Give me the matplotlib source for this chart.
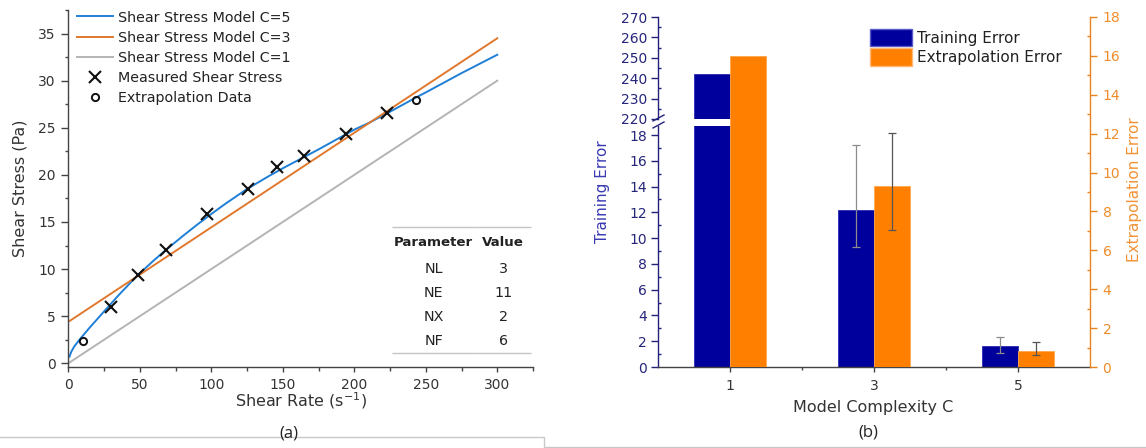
import numpy as np
import matplotlib.pyplot as plt
from matplotlib.lines import Line2D
from matplotlib.ticker import MultipleLocator

# ---------- (a) shear stress vs shear rate ----------
rate_c5 = [0.8, 2, 4, 7, 10, 15, 20, 25, 30, 35, 40, 45, 50, 60, 70, 80, 90, 100,
           110, 125, 140, 150, 165, 175, 194, 200, 210, 225, 243, 250, 275, 300]
stress_c5 = [0.7, 1.2, 1.75, 2.35, 2.9, 3.8, 4.65, 5.5, 6.35, 7.2, 8.0, 8.8, 9.55, 10.95,
             12.25, 13.5, 14.7, 15.85, 16.95, 18.5, 19.85, 20.7, 21.9, 22.7, 24.3, 24.8,
             25.5, 26.7, 28.2, 28.75, 30.8, 32.75]
rate_c3 = [1, 300]
stress_c3 = [4.5, 34.5]
rate_c1 = [0, 300]
stress_c1 = [0, 30]
meas_rate = [30, 49, 68, 97, 126, 146, 165, 194, 223]
meas_stress = [6.0, 9.4, 12.0, 15.9, 18.55, 20.85, 22.0, 24.3, 26.6]
extra_rate = [10, 243]
extra_stress = [2.4, 28.0]

param_names = ['NL', 'NE', 'NX', 'NF']
param_values = ['3', '11', '2', '6']

# ---------- (b) errors vs model complexity ----------
complexity = ['1', '3', '5']
train_err = [242.0, 12.2, 1.65]
train_lo = [0.0, 2.85, 0.6]
train_hi = [0.0, 5.05, 0.7]
extra_err = [16.0, 9.3, 0.82]
extra_lo = [0.0, 2.27, 0.2]
extra_hi = [0.0, 2.75, 0.45]

W, H = 1146, 448
fig = plt.figure(figsize=(W / 100, H / 100), dpi=100)


def fx(px):
    return px / W


def fy(py):
    return 1 - py / H


dark = '#333333'

# ===== panel (a) =====
ax1 = fig.add_axes([fx(68.3), fy(366.7), fx(533 - 68.3), (366.7 - 10) / H])
ax1.plot(rate_c5, stress_c5, color='#1f7fd6', lw=1.4, label='Shear Stress Model C=5')
ax1.plot(rate_c3, stress_c3, color='#e0782e', lw=1.4, label='Shear Stress Model C=3')
ax1.plot(rate_c1, stress_c1, color='#b4b4b4', lw=1.4, label='Shear Stress Model C=1')
ax1.plot(meas_rate, meas_stress, ls='none', marker='x', ms=8, mew=1.5, color='#111111',
         label='Measured Shear Stress')
ax1.plot(extra_rate, extra_stress, ls='none', marker='o', ms=5.2, mew=1.4, mfc='none',
         color='#111111', label='Extrapolation Data')

ax1.set_xlim(0, 325)
ax1.set_ylim(-0.36, 37.5)
ax1.xaxis.set_major_locator(MultipleLocator(50))
ax1.xaxis.set_minor_locator(MultipleLocator(25))
ax1.yaxis.set_major_locator(MultipleLocator(5))
ax1.yaxis.set_minor_locator(MultipleLocator(2.5))
ax1.set_xticks(range(0, 301, 50))
for s in ['top', 'right']:
    ax1.spines[s].set_visible(False)
for s in ['left', 'bottom']:
    ax1.spines[s].set_color('#444444')
    ax1.spines[s].set_linewidth(1.0)
ax1.tick_params(axis='y', which='major', length=5, width=1, color='#444444', labelsize=10,
                labelcolor=dark, pad=4)
ax1.tick_params(axis='y', which='minor', length=2.5, width=1, color='#444444')
ax1.tick_params(axis='x', which='major', length=3.5, width=1, color='#444444', labelsize=10,
                labelcolor=dark, pad=4.5)
ax1.tick_params(axis='x', which='minor', length=3, width=1, color='#444444')
ax1.set_xlabel(r'Shear Rate (s$^{\mathregular{-1}}$)', fontsize=11.5, color=dark)
ax1.set_ylabel('Shear Stress (Pa)', fontsize=11.5, color=dark)
ax1.xaxis.set_label_coords(fx(301), fy(390), transform=fig.transFigure)
ax1.yaxis.set_label_coords(fx(27.5), fy(188), transform=fig.transFigure)

ax1.legend(loc='upper left', bbox_to_anchor=(fx(77), fy(10.5)), bbox_transform=fig.transFigure,
           frameon=False, fontsize=10.3, handlelength=2.5, handletextpad=0.35,
           labelspacing=0.42, borderpad=0, borderaxespad=0, numpoints=1,
           labelcolor='#222222')

# parameter table
tbl = ax1.table(cellText=[[p, v] for p, v in zip(param_names, param_values)],
                colLabels=['Parameter', 'Value'], cellLoc='center', colWidths=[0.6, 0.4],
                bbox=[(392 - 68.3) / 464.7, (366.7 - 353) / 356.7, 139 / 464.7, 126 / 356.7])
tbl.auto_set_font_size(False)
tbl.set_fontsize(10.3)
nrows = len(param_names)
for (r, c), cell in tbl.get_celld().items():
    cell.set_edgecolor('#c4c4c4')
    cell.set_linewidth(1.0)
    cell.get_text().set_color('#222222')
    if r == 0:
        cell.set_height(30)
        cell.set_facecolor('#efefef')
        cell.visible_edges = 'T'
        cell.get_text().set_fontweight('bold')
        cell.get_text().set_fontsize(9.6)
    else:
        cell.set_height(24)
        cell.set_facecolor('white')
        cell.visible_edges = 'B' if r == nrows else ''

# ===== panel (b) =====
left, right, bottom, top = 658, 1090, 367, 17
gap_top, gap_bot = 119, 126
pos = np.arange(len(complexity))
bw = 0.25
navy = '#00009c'
orange = '#ff8000'

axr = fig.add_axes([fx(left), fy(bottom), fx(right - left), (bottom - top) / H])
axlo = fig.add_axes([fx(left), fy(bottom), fx(right - left), (bottom - gap_bot) / H])
axhi = fig.add_axes([fx(left), fy(gap_top), fx(right - left), (gap_top - top) / H])
axr.set_zorder(3)
axr.patch.set_visible(False)

for a in (axlo, axhi):
    a.bar(pos - bw / 2, train_err, bw, color=navy, edgecolor='#2a2ab0', lw=0.6)
    a.set_xlim(-0.5, 2.5)
    for s in ['top', 'right']:
        a.spines[s].set_visible(False)
    a.spines['left'].set_color('#22227a')
    a.spines['left'].set_linewidth(1.0)
    a.tick_params(axis='y', which='major', direction='out', length=5, width=1,
                  color='#22227a', labelsize=10, labelcolor='#25257a', pad=3)
    a.tick_params(axis='y', which='minor', direction='in', length=2.5, width=1,
                  color='#22227a')

axlo.errorbar(pos[1:] - bw / 2, train_err[1:], yerr=[train_lo[1:], train_hi[1:]], fmt='none',
              ecolor='#8c8c8c', elinewidth=0.9, capsize=3, capthick=0.9)
axlo.set_ylim(0, 18.7)
axlo.yaxis.set_major_locator(MultipleLocator(2))
axlo.yaxis.set_minor_locator(MultipleLocator(1))
axlo.set_yticks(range(0, 19, 2))
axlo.set_xticks(pos, complexity)
axlo.set_xticks([0.5, 1.5], minor=True)
axlo.spines['bottom'].set_color('#444444')
axlo.spines['bottom'].set_linewidth(1.0)
axlo.tick_params(axis='x', which='major', length=3.5, width=1, color='#444444', labelsize=10,
                 labelcolor=dark, pad=5)
axlo.tick_params(axis='x', which='minor', length=2.5, width=1, color='#444444')

axhi.set_ylim(220, 270)
axhi.yaxis.set_major_locator(MultipleLocator(10))
axhi.yaxis.set_minor_locator(MultipleLocator(5))
axhi.spines['bottom'].set_visible(False)
axhi.set_xticks([])

axr.bar(pos + bw / 2, extra_err, bw, color=orange, edgecolor='#ffa64d', lw=0.6)
axr.errorbar(pos[1:] + bw / 2, extra_err[1:], yerr=[extra_lo[1:], extra_hi[1:]], fmt='none',
             ecolor='#555555', elinewidth=0.9, capsize=3, capthick=0.9)
axr.set_xlim(-0.5, 2.5)
axr.set_ylim(0, 18)
axr.yaxis.set_major_locator(MultipleLocator(2))
axr.yaxis.set_minor_locator(MultipleLocator(1))
axr.yaxis.tick_right()
axr.set_xticks([])
for s in ['top', 'left', 'bottom']:
    axr.spines[s].set_visible(False)
axr.spines['right'].set_color('#e8841f')
axr.spines['right'].set_linewidth(1.0)
axr.tick_params(axis='y', which='major', direction='out', length=5, width=1, color='#e8841f',
                labelsize=10, labelcolor='#f08c2c', pad=4)
axr.tick_params(axis='y', which='minor', direction='in', length=2.5, width=1, color='#e8841f')

# axis break marks
for dy in (0, 7):
    fig.add_artist(Line2D([fx(653), fx(664)], [fy(121 + dy), fy(115 + dy)], color='#22227a',
                          lw=1.0, transform=fig.transFigure))

fig.text(fx(602), fy(192), 'Training Error', rotation=90, ha='center', va='center',
         fontsize=11, color='#3a3ab4')
fig.text(fx(1134), fy(190), 'Extrapolation Error', rotation=90, ha='center', va='center',
         fontsize=11, color='#f39236')
fig.text(fx(873), fy(407), 'Model Complexity C', ha='center', va='center', fontsize=11.5,
         color=dark)

bar_handles = [plt.Rectangle((0, 0), 1, 1, fc=navy, ec='#5a5ac8', lw=1.0),
               plt.Rectangle((0, 0), 1, 1, fc=orange, ec='#ffb877', lw=1.0)]
axr.legend(bar_handles, ['Training Error', 'Extrapolation Error'], loc='upper left',
           bbox_to_anchor=(fx(870), fy(29)), bbox_transform=fig.transFigure, frameon=False,
           fontsize=11, handlelength=2.75, handleheight=1.37, handletextpad=0.33,
           labelspacing=0.13, borderpad=0, borderaxespad=0, labelcolor='#222222')

# captions and page borders
fig.text(fx(288.5), fy(433), '(a)', ha='center', va='center', fontsize=12,
         family='Open Sans', color='#222222')
fig.text(fx(868), fy(432), '(b)', ha='center', va='center', fontsize=12,
         family='Open Sans', color='#222222')
fig.add_artist(Line2D([0, fx(544), fx(544), 1], [fy(437), fy(437), fy(447), fy(447)],
                      color='#c8c8c8', lw=1.0, transform=fig.transFigure))

fig.savefig('out.png', dpi=100)
